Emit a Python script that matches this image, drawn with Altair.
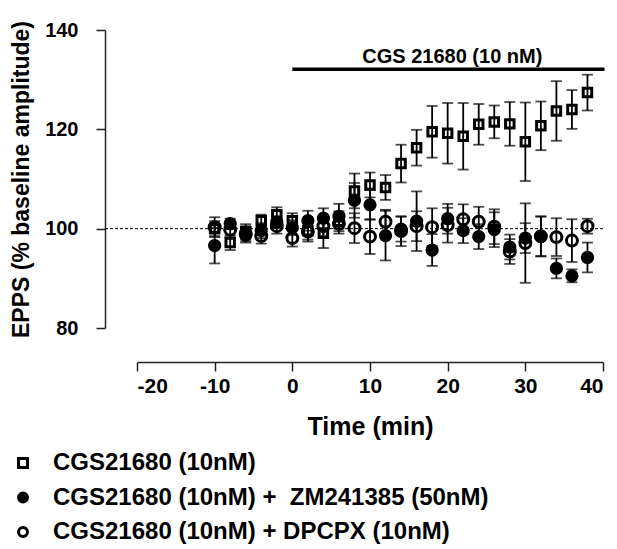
import altair as alt
import pandas as pd

times = [-10, -8, -6, -4, -2, 0, 2, 4, 6, 8, 10, 12, 14, 16, 18, 20, 22, 24, 26, 28, 30, 32, 34, 36, 38]
cgs_mean = [100.0, 97.2, 99.4, 101.6, 102.8, 101.6, 99.6, 99.1, 101.5, 107.6, 108.8, 108.3, 113.1,
            116.3, 119.5, 119.2, 118.6, 121.0, 121.5, 121.1, 117.5, 120.7, 123.7, 124.0, 127.4]
cgs_sem = [1.5, 1.5, 1.5, 1.2, 1.5, 1.5, 1.8, 3.0, 2.0, 3.5, 2.5, 2.5, 3.8,
           3.6, 5.2, 6.1, 6.7, 4.1, 3.3, 4.4, 7.9, 4.9, 6.0, 3.9, 3.6]
zm_mean = [96.6, 101.0, 98.7, 99.6, 101.3, 100.2, 101.6, 102.1, 102.5, 105.7, 104.8, 98.6, 99.9,
           101.5, 95.7, 102.0, 99.6, 98.4, 99.8, 96.3, 98.1, 98.4, 92.0, 90.5, 94.2]
zm_sem = [3.6, 1.0, 1.5, 1.5, 1.2, 1.5, 2.0, 2.0, 2.5, 3.5, 3.0, 5.0, 2.5,
          6.0, 3.2, 3.0, 2.5, 2.5, 3.5, 2.5, 3.0, 4.0, 2.0, 1.3, 3.0]
dpc_mean = [100.3, 99.8, 99.0, 98.5, 100.5, 98.1, 99.4, 100.5, 101.0, 100.1, 98.4, 101.4, 99.5,
            100.5, 100.3, 100.7, 101.9, 101.4, 100.4, 95.4, 97.1, 98.5, 98.3, 97.6, 100.5]
dpc_sem = [2.0, 1.5, 1.5, 1.5, 1.5, 1.7, 2.0, 2.0, 2.0, 3.0, 3.5, 2.4, 3.0,
           3.0, 3.8, 3.5, 3.0, 3.0, 3.5, 2.5, 8.0, 4.0, 3.8, 4.3, 1.5]

series_names = [
    "CGS21680 (10nM)",
    "CGS21680 (10nM) +\u00a0 ZM241385 (50nM)",
    "CGS21680 (10nM) + DPCPX (10nM)",
]
series_shapes = ["square", "circle", "circle"]
series_fills = ["transparent", "black", "transparent"]
series_strokes = ["black", "black", "black"]
series_sizes = [72, 105, 120]

x_ticks = [-20, -10, 0, 10, 20, 30, 40]
y_ticks = [80, 100, 120, 140]

baseline = [100]
bar_start = [0]
bar_end = [40.2]
bar_level = [132.1]
bar_label = ["CGS 21680 (10 nM)"]
label_x = [20.6]
label_y = [134.6]

rows = []
for name, sz, means, sems in zip(series_names, series_sizes,
                                 [cgs_mean, zm_mean, dpc_mean], [cgs_sem, zm_sem, dpc_sem]):
    for t, m, s in zip(times, means, sems):
        rows.append({"series": name, "sz": sz, "t": t, "v": m, "lo": m - s, "hi": m + s})
df = pd.DataFrame(rows)

FONT = "Liberation Sans"

xs = alt.Scale(domain=[-20, 40], nice=False, zero=False)
ys = alt.Scale(domain=[80, 140], nice=False, zero=False)

x_enc = alt.X("t:Q", scale=xs, axis=alt.Axis(
    values=x_ticks, offset=34, tickSize=9, title="Time (min)", grid=False,
    labelExpr="'' + datum.value",
    labelFontSize=21, titleFontSize=25, labelPadding=4, titlePadding=18))
y_enc = alt.Y("v:Q", scale=ys, axis=alt.Axis(
    values=y_ticks, offset=32, tickSize=9, title="EPPS (% baseline amplitude)", grid=False,
    labelFontSize=20, titleFontSize=23, labelPadding=18, titlePadding=11))

base = alt.Chart(df)

bars = base.mark_rule(color="black", strokeWidth=1.8).encode(
    x=x_enc, y=alt.Y("lo:Q", scale=ys), y2="hi:Q")
cap_lo = base.mark_tick(color="black", orient="horizontal", size=11, thickness=1.8).encode(
    x=alt.X("t:Q", scale=xs), y=alt.Y("lo:Q", scale=ys))
cap_hi = base.mark_tick(color="black", orient="horizontal", size=11, thickness=1.8).encode(
    x=alt.X("t:Q", scale=xs), y=alt.Y("hi:Q", scale=ys))

legend = alt.Legend(
    title=None, orient="none", legendX=-126, legendY=421, direction="vertical",
    labelFont=FONT, labelFontSize=24, labelFontWeight="bold", labelColor="black",
    labelLimit=600, labelOffset=18, rowPadding=10.5,
    symbolSize=80, symbolStrokeWidth=3)

points = base.mark_point(strokeWidth=3, opacity=1, filled=True).encode(
    x=alt.X("t:Q", scale=xs),
    y=y_enc,
    shape=alt.Shape("series:N", scale=alt.Scale(domain=series_names, range=series_shapes), legend=legend),
    fill=alt.Fill("series:N", scale=alt.Scale(domain=series_names, range=series_fills), legend=legend),
    stroke=alt.Stroke("series:N", scale=alt.Scale(domain=series_names, range=series_strokes), legend=legend),
    size=alt.Size("sz:Q", scale=None),
)

base_df = pd.DataFrame({"v": baseline})
dash = alt.Chart(base_df).mark_rule(color="black", strokeWidth=1, strokeDash=[3, 2]).encode(
    x=alt.value(-32), x2=alt.value(466), y=alt.Y("v:Q", scale=ys))

bar_df = pd.DataFrame({"s": bar_start, "e": bar_end, "lvl": bar_level})
drug_bar = alt.Chart(bar_df).mark_rule(color="black", strokeWidth=3.5).encode(
    x=alt.X("s:Q", scale=xs), x2="e:Q", y=alt.Y("lvl:Q", scale=ys))

lab_df = pd.DataFrame({"x": label_x, "y": label_y, "txt": bar_label})
drug_text = alt.Chart(lab_df).mark_text(
    font=FONT, fontSize=20, fontWeight="bold", color="black", baseline="middle", align="center"
).encode(x=alt.X("x:Q", scale=xs), y=alt.Y("y:Q", scale=ys), text="txt:N")

chart = alt.layer(dash, bars, cap_lo, cap_hi, points, drug_bar, drug_text).properties(
    width=466, height=298,
    autosize=alt.AutoSizeParams(type="none"),
    padding={"left": 129, "top": 22, "right": 6, "bottom": 218},
).configure_view(stroke=None).configure_axis(
    labelFont=FONT, titleFont=FONT, labelFontWeight="bold", titleFontWeight="bold",
    labelColor="black", titleColor="black", domainColor="#222", tickColor="#222",
    domainWidth=1.5, tickWidth=1.5,
)

chart.save("out.html", embed_options={"renderer": "svg", "actions": False})
